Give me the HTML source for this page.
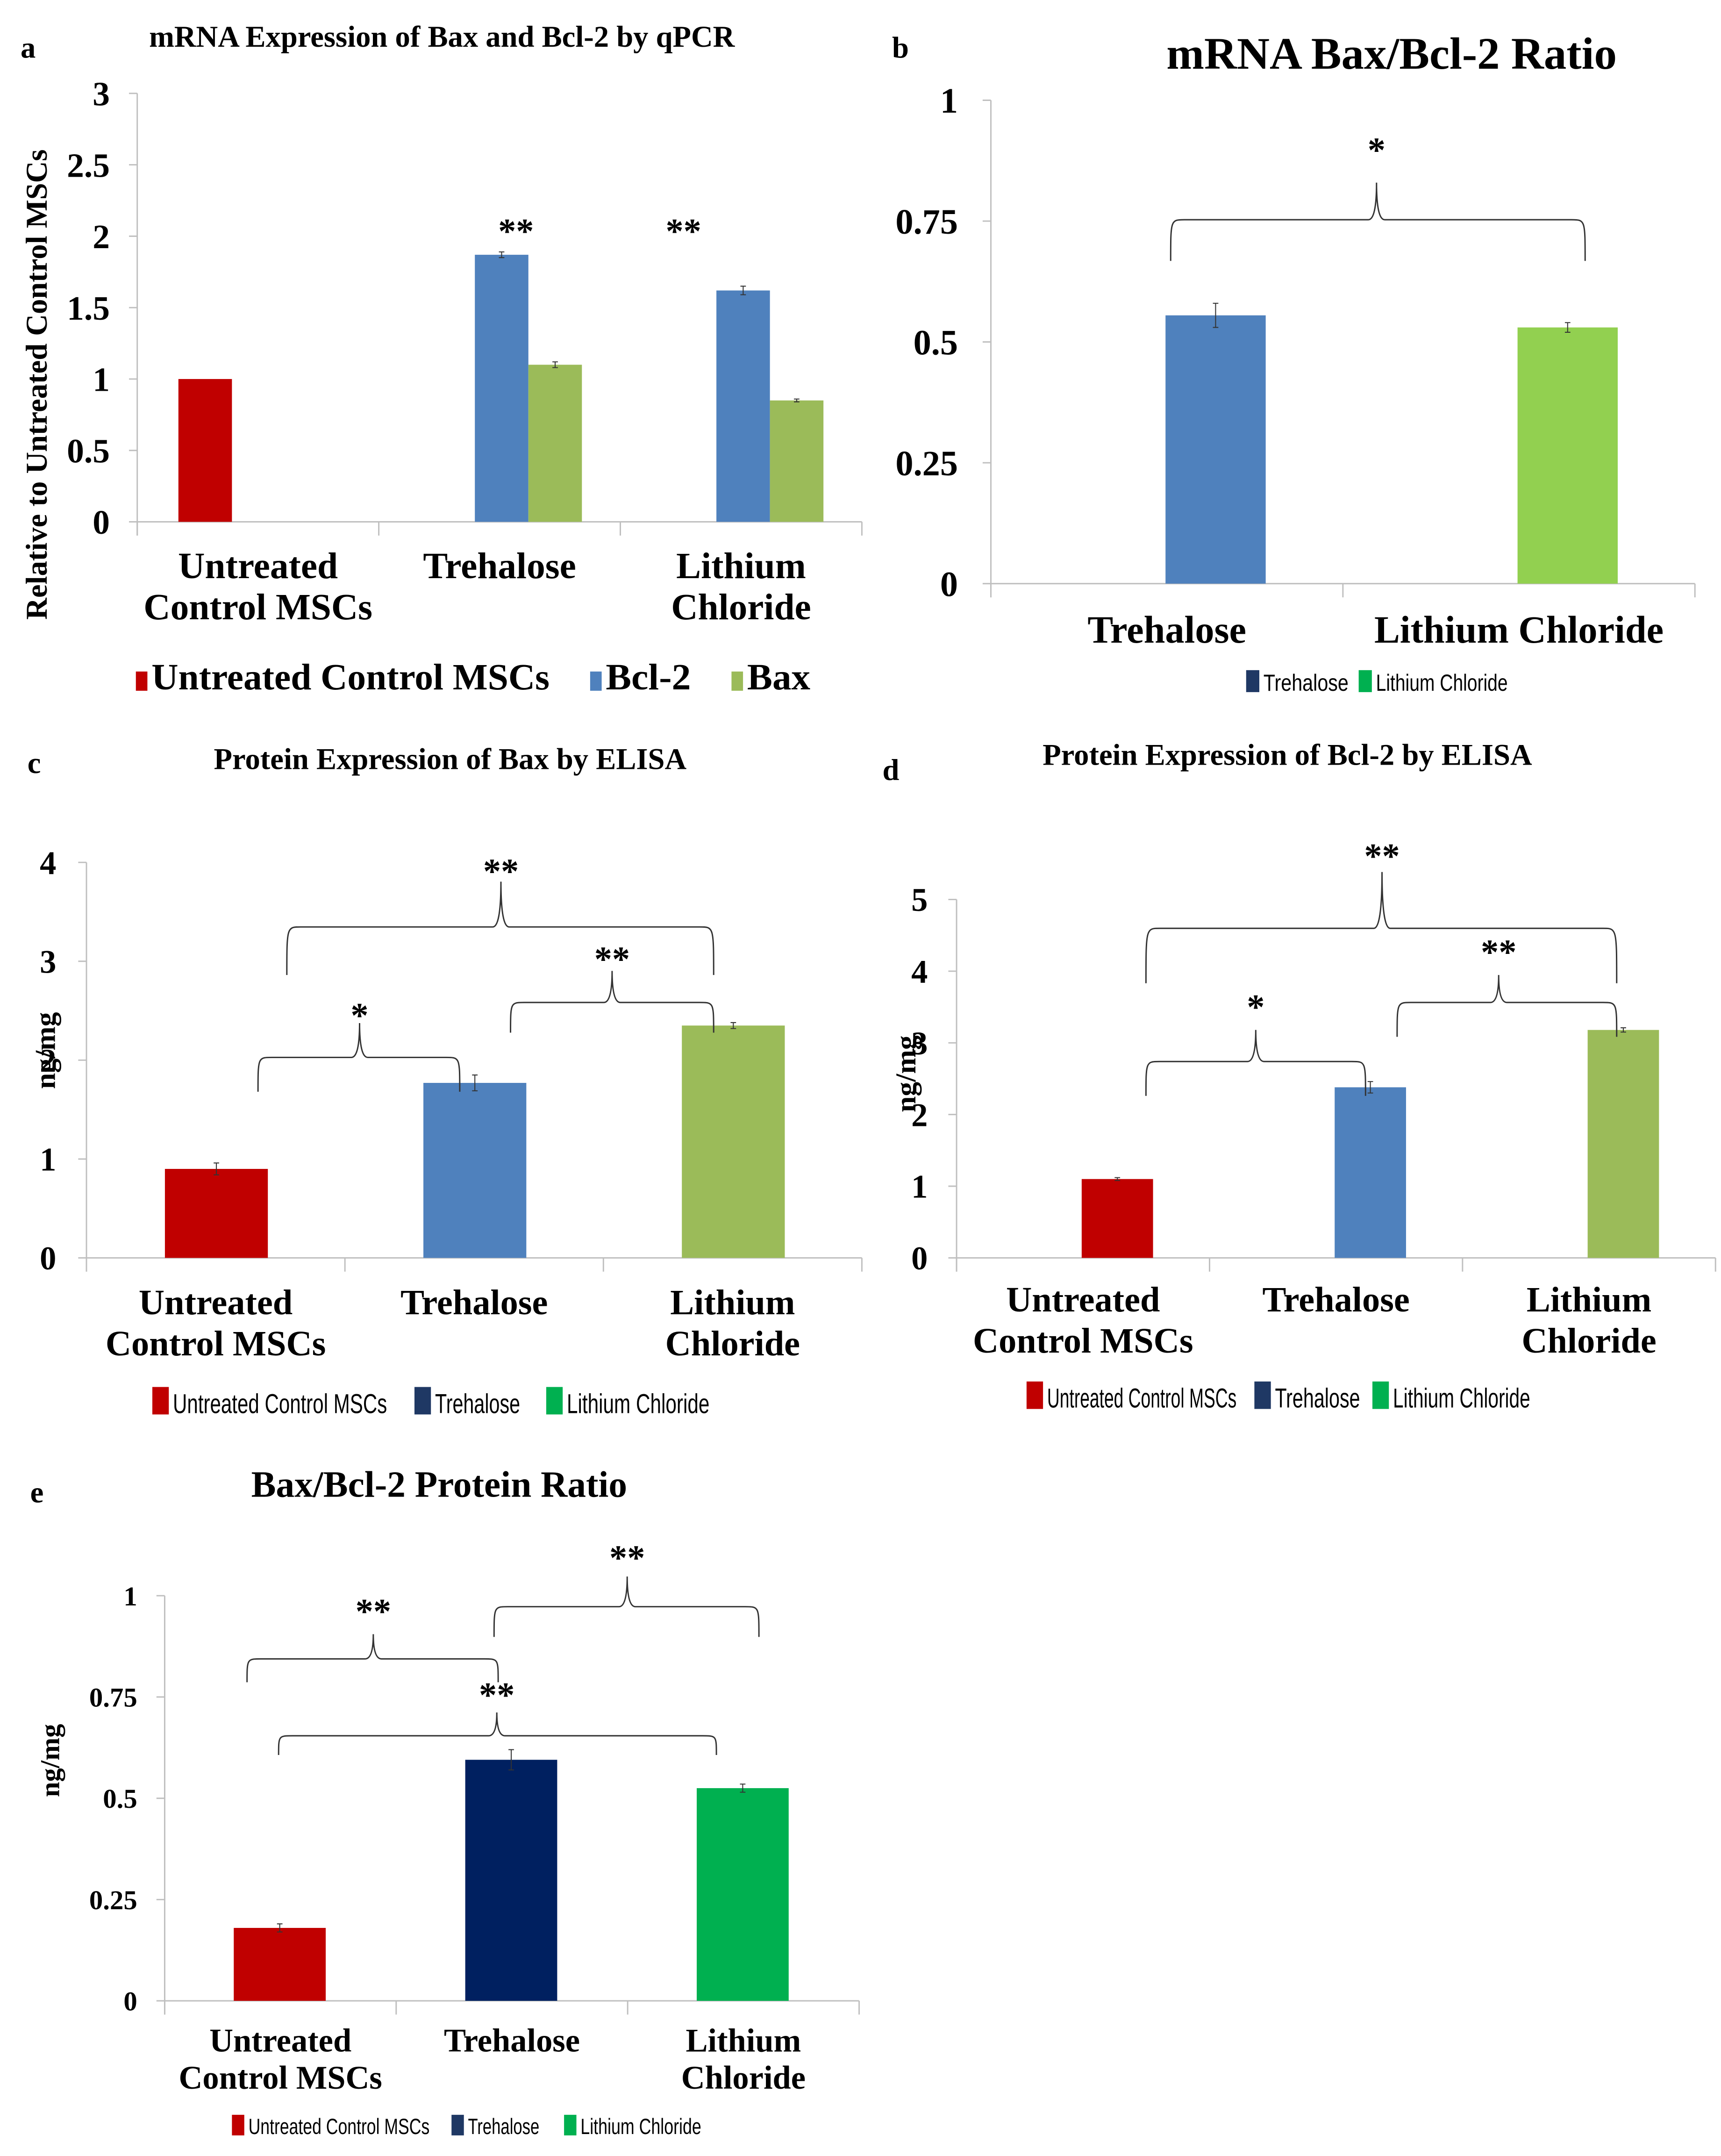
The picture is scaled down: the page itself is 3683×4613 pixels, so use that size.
<!DOCTYPE html>
<html><head><meta charset="utf-8"><style>
html,body{margin:0;padding:0;background:#fff;}
svg{display:block;}
text{font-family:"Liberation Serif",serif;font-weight:bold;fill:#000;}
.leg{font-family:"Liberation Sans",sans-serif;font-weight:normal;}
</style></head><body>
<svg id="fig" width="3683" height="4613" viewBox="0 0 1254 1570" preserveAspectRatio="none" xmlns="http://www.w3.org/2000/svg"></svg>
<script>
// ---- Panel a data ----
const aCategories = ["Untreated|Control MSCs", "Trehalose", "Lithium|Chloride"];
const aControl = [1.0, null, null];
const aBcl2 = [null, 1.87, 1.62];
const aBax = [null, 1.10, 0.85];
const aBcl2Err = [0, 0.02, 0.03];
const aBaxErr = [0, 0.02, 0.01];
const aTicks = ["0","0.5","1","1.5","2","2.5","3"];
const aTickVals = [0,0.5,1,1.5,2,2.5,3];
// ---- Panel b data ----
const bCategories = ["Trehalose", "Lithium Chloride"];
const bValues = [0.555, 0.53];
const bErr = [0.025, 0.01];
const bTicks = ["0","0.25","0.5","0.75","1"];
const bTickVals = [0,0.25,0.5,0.75,1];
// ---- Panel c data ----
const cCategories = ["Untreated|Control MSCs", "Trehalose", "Lithium|Chloride"];
const cValues = [0.9, 1.77, 2.35];
const cErr = [0.06, 0.08, 0.03];
const cTicks = ["0","1","2","3","4"];
const cTickVals = [0,1,2,3,4];
// ---- Panel d data ----
const dCategories = ["Untreated|Control MSCs", "Trehalose", "Lithium|Chloride"];
const dValues = [1.1, 2.38, 3.18];
const dErr = [0.02, 0.08, 0.03];
const dTicks = ["0","1","2","3","4","5"];
const dTickVals = [0,1,2,3,4,5];
// ---- Panel e data ----
const eCategories = ["Untreated|Control MSCs", "Trehalose", "Lithium|Chloride"];
const eValues = [0.18, 0.595, 0.525];
const eErr = [0.01, 0.025, 0.01];
const eTicks = ["0","0.25","0.5","0.75","1"];
const eTickVals = [0,0.25,0.5,0.75,1];

const NS = "http://www.w3.org/2000/svg";
const svg = document.getElementById("fig");
function el(tag, attrs, parent, txt){
  const e = document.createElementNS(NS, tag);
  for (const k in attrs) e.setAttribute(k, attrs[k]);
  if (txt !== undefined) e.textContent = txt;
  (parent||svg).appendChild(e);
  return e;
}
function txt(x,y,s,size,anchor,parent,name,cls){
  const t = el("text",{x:x,y:y,"font-size":size,"text-anchor":anchor||"middle"},parent,s);
  if(cls) t.setAttribute("class",cls);
  
  
  return t;
}
function scale(v0,v1,p0,p1){return v=>p0+(v-v0)*(p1-p0)/(v1-v0);}

function axes(g,P){
  const y=scale(0,P.max,P.y0,P.y1);
  const ax=el("line",{x1:P.x0,y1:P.y1,x2:P.x0,y2:P.y0+10,stroke:"#bfbfbf","stroke-width":1},g);
  
  
  P.tickVals.forEach((v,i)=>{
    const tk=el("line",{x1:P.x0-6,y1:y(v),x2:P.x0,y2:y(v),stroke:"#bfbfbf"},g);
    
    
    txt(P.x0-P.lblOff,y(v)+P.tickSize*0.35,P.ticks[i],P.tickSize,"end",g,"y-tick-label");
  });
  const xa=el("line",{x1:P.x0,y1:P.y0,x2:P.x1,y2:P.y0,stroke:"#bfbfbf"},g);
  
  
  const n=P.cats.length, w=(P.x1-P.x0)/n;
  for(let i=0;i<=n;i++){
    const d=el("line",{x1:P.x0+i*w,y1:P.y0,x2:P.x0+i*w,y2:P.y0+10,stroke:"#bfbfbf"},g);
    
    
  }
  P.cats.forEach((c,i)=>{
    const lines=c.split("|");
    lines.forEach((l,j)=>txt(P.x0+(i+0.5)*w,P.labY+j*P.labGap,l,P.labSize,"middle",g,"x-category-label"));
  });
  return {y:y,w:w};
}
function bar(g,x,wid,v,err,y,color,name){
  const r=el("rect",{x:x,y:y(v),width:wid,height:y(0)-y(v),fill:color},g);
  
  
  if(err>0){
    const cx=x+wid/2;
    const e=el("path",{d:`M${cx},${y(v+err)}V${y(v-err)}M${cx-2},${y(v+err)}h4M${cx-2},${y(v-err)}h4`,stroke:"#333","stroke-width":0.7,fill:"none"},g);
    
    
  }
}
function brace(g,x1,x2,yl,yend,px,peak,star,sy,size){
  const d=`M${x1},${yend} C${x1},${yl} ${x1},${yl} ${x1+10},${yl} L${px-6},${yl} Q${px},${yl} ${px},${peak} Q${px},${yl} ${px+6},${yl} L${x2-10},${yl} C${x2},${yl} ${x2},${yl} ${x2},${yend}`;
  const b=el("path",{d:d,stroke:"#333","stroke-width":1,fill:"none"},g);
  
  
  txt(px,sy,star,size||24,"middle",g,"significance-stars");
}
function legend(g,items,y,size,sq,name){
  items.forEach(it=>{
    const r=el("rect",{x:it[0],y:y-sq,width:sq*0.6,height:sq,fill:it[2]},g);
    
    
    const t=txt(it[0]+sq*0.6+3,y-1,it[1],size,"start",g,"legend-entry",name);
    if(it[3]){t.setAttribute("textLength",it[3]);t.setAttribute("lengthAdjust","spacingAndGlyphs");}
  });
}
function group(name){const g=el("g",{});return g;}

// ---------- Panel a ----------
(function(){
  const g=group("panel-a");
  txt(15,42,"a",22,"start",g,"panel-letter");
  txt(322,34,"mRNA Expression of Bax and Bcl-2 by qPCR",22,"middle",g,"chart-title");
  const P={x0:100,x1:628,y0:380,y1:68,max:3,ticks:aTicks,tickVals:aTickVals,lblOff:20,tickSize:25,cats:aCategories,labY:421,labGap:30,labSize:27};
  const A=axes(g,P);
  const yt=txt(0,0,"Relative to Untreated Control MSCs",22,"middle",g,"y-axis-title");
  yt.setAttribute("transform","translate(34,280) rotate(-90)");
  const bw=39;
  aCategories.forEach((c,i)=>{
    const cx=P.x0+(i+0.5)*A.w;
    if(aControl[i]!=null) bar(g,cx-58,bw,aControl[i],0,A.y,"#c00000","bar-control");
    if(aBcl2[i]!=null) bar(g,cx-bw+21,bw,aBcl2[i],aBcl2Err[i],A.y,"#4f81bd","bar-bcl2");
    if(aBax[i]!=null) bar(g,cx+21,bw,aBax[i],aBaxErr[i],A.y,"#9bbb59","bar-bax");
  });
  txt(376,177,"**",26,"middle",g,"significance-stars");
  txt(498,177,"**",26,"middle",g,"significance-stars");
  legend(g,[[99,"Untreated Control MSCs","#c00000",290],[430,"Bcl-2","#4f81bd",62],[533,"Bax","#9bbb59",46]],503,27,14);
})();

// ---------- Panel b ----------
(function(){
  const g=group("panel-b");
  txt(650,42,"b",22,"start",g,"panel-letter");
  txt(1014,50,"mRNA Bax/Bcl-2 Ratio",33,"middle",g,"chart-title");
  const P={x0:722,x1:1235,y0:425,y1:73,max:1,ticks:bTicks,tickVals:bTickVals,lblOff:24,tickSize:26,cats:bCategories,labY:468,labGap:30,labSize:28};
  const A=axes(g,P);
  const cols=["#4f81bd","#92d050"];
  bCategories.forEach((c,i)=>{
    const cx=P.x0+(i+0.5)*A.w;
    bar(g,cx-1,73,bValues[i],bErr[i],A.y,cols[i],"bar-"+(i?"lithium":"trehalose"));
  });
  brace(g,853,1155,160,190,1003,133,"*",118,26);
  legend(g,[[908,"Trehalose","#1f3864",62],[990,"Lithium Chloride","#00b050",96]],504,17,16,"leg");
})();

// ---------- Panel c ----------
(function(){
  const g=group("panel-c");
  txt(20,563,"c",22,"start",g,"panel-letter");
  txt(328,560,"Protein Expression of Bax by ELISA",22,"middle",g,"chart-title");
  const P={x0:63,x1:628,y0:916,y1:628,max:4,ticks:cTicks,tickVals:cTickVals,lblOff:22,tickSize:24,cats:cCategories,labY:957,labGap:30,labSize:26};
  const A=axes(g,P);
  const yt=txt(0,0,"ng/mg",21,"middle",g,"y-axis-title");
  yt.setAttribute("transform","translate(40,765) rotate(-90)");
  const cols=["#c00000","#4f81bd","#9bbb59"];
  cValues.forEach((v,i)=>{
    const cx=P.x0+(i+0.5)*A.w;
    bar(g,cx-37,75,v,cErr[i],A.y,cols[i],"bar-"+i);
  });
  brace(g,188,335,770,795,262,745,"*",748,26);
  brace(g,372,520,730,752,446,707,"**",707,26);
  brace(g,209,520,675,710,365,642,"**",643,26);
  legend(g,[[111,"Untreated Control  MSCs","#c00000",156],[302,"Trehalose","#1f3864",62],[398,"Lithium Chloride","#00b050",104]],1030,20,20,"leg");
})();

// ---------- Panel d ----------
(function(){
  const g=group("panel-d");
  txt(643,568,"d",22,"start",g,"panel-letter");
  txt(938,557,"Protein Expression of Bcl-2 by ELISA",22,"middle",g,"chart-title");
  const P={x0:697,x1:1250,y0:916,y1:655,max:5,ticks:dTicks,tickVals:dTickVals,lblOff:21,tickSize:24,cats:dCategories,labY:955,labGap:30,labSize:26};
  const A=axes(g,P);
  const yt=txt(0,0,"ng/mg",21,"middle",g,"y-axis-title");
  yt.setAttribute("transform","translate(667,782) rotate(-90)");
  const cols=["#c00000","#4f81bd","#9bbb59"];
  dValues.forEach((v,i)=>{
    const cx=P.x0+(i+0.5)*A.w;
    bar(g,cx-1,52,v,dErr[i],A.y,cols[i],"bar-"+i);
  });
  brace(g,835,995,773,798,915,750,"*",742,26);
  brace(g,1018,1178,730,755,1092,710,"**",702,26);
  brace(g,835,1178,676,716,1007,635,"**",632,26);
  legend(g,[[748,"Untreated Control  MSCs","#c00000",138],[914,"Trehalose","#1f3864",62],[1000,"Lithium Chloride","#00b050",100]],1026,20,20,"leg");
})();

// ---------- Panel e ----------
(function(){
  const g=group("panel-e");
  txt(22,1094,"e",22,"start",g,"panel-letter");
  txt(320,1090,"Bax/Bcl-2 Protein Ratio",27,"middle",g,"chart-title");
  const P={x0:120,x1:626,y0:1457,y1:1162,max:1,ticks:eTicks,tickVals:eTickVals,lblOff:20,tickSize:20,cats:eCategories,labY:1494,labGap:27,labSize:24};
  const A=axes(g,P);
  const yt=txt(0,0,"ng/mg",20,"middle",g,"y-axis-title");
  yt.setAttribute("transform","translate(43,1282) rotate(-90)");
  const cols=["#c00000","#002060","#00b050"];
  eValues.forEach((v,i)=>{
    const cx=P.x0+(i+0.5)*A.w;
    bar(g,cx-34,67,v,eErr[i],A.y,cols[i],"bar-"+i);
  });
  brace(g,180,363,1208,1225,272,1190,"**",1182,26);
  brace(g,360,553,1170,1192,457,1148,"**",1143,26);
  brace(g,203,522,1264,1278,362,1247,"**",1243,26);
  legend(g,[[169,"Untreated Control  MSCs","#c00000",132],[329,"Trehalose","#1f3864",52],[411,"Lithium Chloride","#00b050",88]],1555,16,15,"leg");
})();
</script>
</body></html>
